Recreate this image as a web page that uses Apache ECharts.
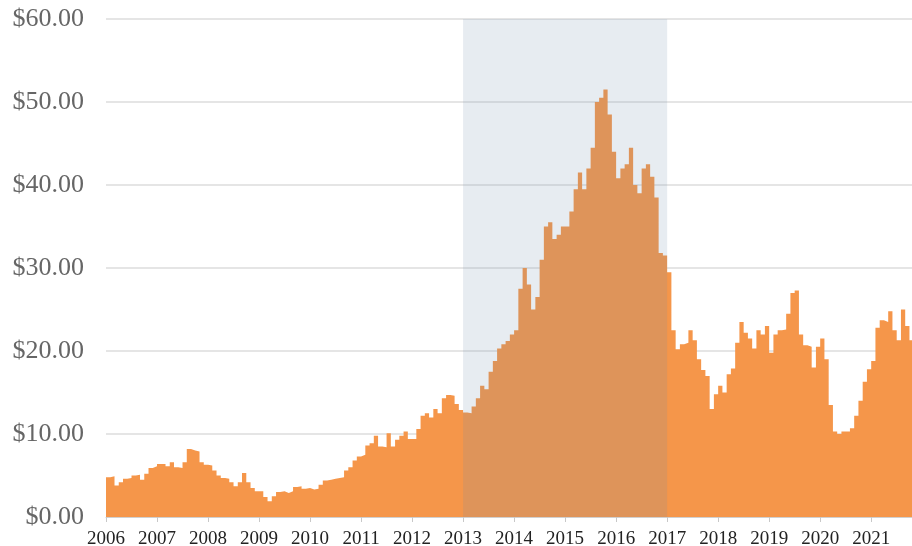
<!DOCTYPE html>
<html>
<head>
<meta charset="utf-8">
<title>Price</title>
<script src="https://cdn.jsdelivr.net/npm/echarts@6/dist/echarts.min.js"></script>
<style>
  html, body { margin: 0; padding: 0; background: #fff; }
  #main { width: 912px; height: 546px; }
</style>
</head>
<body>
<div id="main"></div>
<script>
// monthly price, one array per year (Jan..Dec)
var p2006 = [4.8, 4.9, 3.8, 4.2, 4.6, 4.7, 5.0, 5.1, 4.5, 5.2, 5.9, 6.1];
var p2007 = [6.4, 6.4, 6.1, 6.6, 6.0, 5.9, 6.6, 8.2, 8.0, 7.9, 6.6, 6.3];
var p2008 = [6.2, 5.6, 5.0, 4.7, 4.6, 4.2, 3.7, 4.2, 5.3, 4.2, 3.5, 3.1];
var p2009 = [3.1, 2.4, 1.9, 2.5, 3.0, 3.1, 2.9, 3.1, 3.6, 3.7, 3.4, 3.5];
var p2010 = [3.3, 3.4, 3.9, 4.4, 4.5, 4.6, 4.7, 4.8, 5.6, 6.0, 6.8, 7.3];
var p2011 = [7.5, 8.6, 8.9, 9.8, 8.5, 8.4, 10.1, 8.5, 9.3, 9.8, 10.3, 9.4];
var p2012 = [9.4, 10.6, 12.2, 12.5, 12.0, 13.0, 12.5, 14.3, 14.7, 14.6, 13.6, 12.9];
var p2013 = [12.6, 12.5, 13.3, 14.3, 15.8, 15.4, 17.5, 18.8, 20.3, 20.8, 21.2, 22.0];
var p2014 = [22.5, 27.5, 30.0, 28.0, 25.0, 26.5, 31.0, 35.0, 35.5, 33.5, 34.0, 35.0];
var p2015 = [35.0, 36.8, 39.5, 41.5, 39.5, 42.0, 44.5, 50.0, 50.5, 51.5, 48.5, 44.0];
var p2016 = [40.8, 42.0, 42.5, 44.5, 40.0, 39.0, 42.0, 42.5, 41.0, 38.5, 31.8, 31.5];
var p2017 = [29.5, 22.5, 20.2, 20.8, 21.0, 22.5, 21.3, 19.0, 17.7, 17.0, 13.0, 14.8];
var p2018 = [15.8, 15.0, 17.2, 17.9, 21.0, 23.5, 22.2, 21.5, 20.3, 22.5, 22.0, 23.0];
var p2019 = [19.8, 22.0, 22.5, 22.6, 24.5, 27.0, 27.3, 22.0, 20.7, 20.5, 18.0, 20.5];
var p2020 = [21.5, 19.0, 13.5, 10.3, 10.0, 10.3, 10.3, 10.7, 12.2, 14.0, 16.3, 17.8];
var p2021 = [18.8, 22.8, 23.7, 23.5, 24.8, 22.5, 21.3, 25.0, 23.0, 21.3];

var yearly = [p2006, p2007, p2008, p2009, p2010, p2011, p2012, p2013,
              p2014, p2015, p2016, p2017, p2018, p2019, p2020, p2021];
var firstYear = 2006;
var lastX = 2021.8;
var shadeFrom = 2013, shadeTo = 2017;

var serif = 'Liberation Serif';

// build [x, price] pairs, x as fractional year
var points = [];
yearly.forEach(function (arr, yi) {
  arr.forEach(function (v, m) {
    points.push([firstYear + yi + m / 12, v]);
  });
});
// hold the last month out to the edge
var last = points[points.length - 1];
points.push([last[0] + 1 / 12, last[1]]);

var chart = echarts.init(document.getElementById('main'));

var option = {
  animation: false,
  grid: { left: 106, right: 0, top: 19, bottom: 29, outerBoundsMode: 'none' },
  xAxis: {
    type: 'value',
    min: firstYear,
    max: lastX,
    interval: 1,
    axisLine: { show: true, lineStyle: { color: '#d0d0d0', width: 1 } },
    axisTick: { show: true, length: 5, lineStyle: { color: '#c8c8c8' } },
    splitLine: { show: false },
    axisLabel: {
      showMaxLabel: false,
      margin: 13,
      fontFamily: serif,
      fontSize: 19,
      color: '#222',
      formatter: function (v) { return Number.isInteger(v) ? String(v) : ''; }
    }
  },
  yAxis: {
    type: 'value',
    min: 0,
    max: 60,
    interval: 10,
    axisLine: { show: false },
    axisTick: { show: false },
    splitLine: { lineStyle: { color: '#dcdcdc', width: 1.5 } },
    axisLabel: {
      margin: 22,
      fontFamily: serif,
      fontSize: 26,
      color: '#666',
      formatter: function (v) { return '$' + v.toFixed(2); }
    }
  },
  series: [
    {
      type: 'line',
      step: 'end',
      data: points,
      symbol: 'none',
      lineStyle: { width: 0 },
      areaStyle: { color: '#f5964a', opacity: 1 },
      markArea: {
        // shaded period, above the area fill
        z: 10,
        silent: true,
        itemStyle: { color: 'rgba(110,140,170,0.17)' },
        data: [[{ xAxis: shadeFrom }, { xAxis: shadeTo }]]
      }
    }
  ]
};

chart.setOption(option);
</script>
</body>
</html>
